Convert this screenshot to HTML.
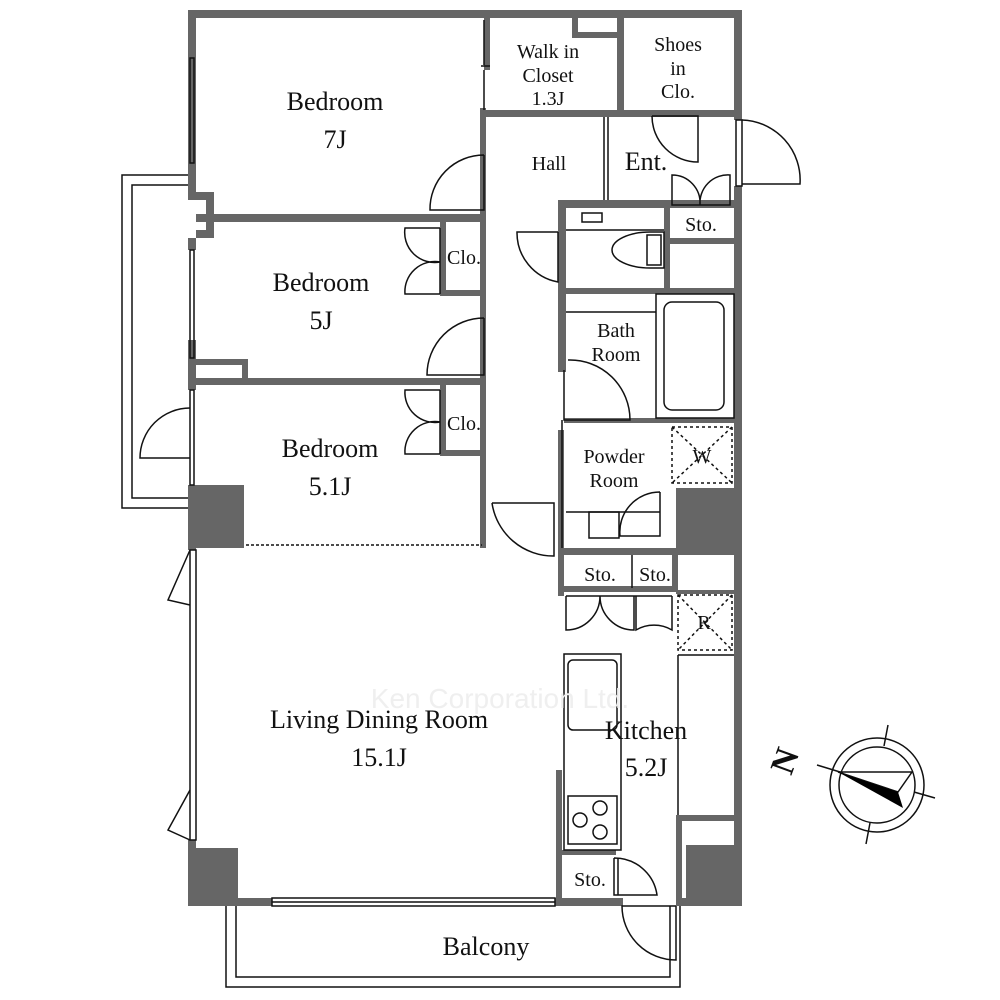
<!DOCTYPE html>
<html><head><meta charset="utf-8"><style>
html,body{margin:0;padding:0;background:#fff;}
svg{display:block;}
text{font-family:"Liberation Serif",serif;fill:#111;}
</style></head><body>
<svg width="1000" height="1000" viewBox="0 0 1000 1000" xmlns="http://www.w3.org/2000/svg">
<g fill="#666">
<rect x="188" y="10" width="554" height="8"/>
<rect x="188" y="10" width="8" height="190"/>
<rect x="188" y="238" width="8" height="12"/>
<rect x="188" y="340" width="8" height="50"/>
<rect x="188" y="485" width="8" height="65"/>
<rect x="188" y="840" width="8" height="66"/>
<rect x="734" y="10" width="8" height="110"/>
<rect x="734" y="186" width="8" height="720"/>
<rect x="188" y="898" width="84" height="8"/>
<rect x="555" y="898" width="68" height="8"/>
<rect x="676" y="898" width="66" height="8"/>
<rect x="188" y="485" width="56" height="63"/>
<rect x="188" y="848" width="50" height="58"/>
<rect x="676" y="488" width="66" height="60"/>
<rect x="686" y="845" width="56" height="61"/>
<rect x="196" y="214" width="288" height="8"/>
<rect x="196" y="192" width="18" height="8"/><rect x="206" y="192" width="8" height="46"/><rect x="196" y="230" width="18" height="8"/>
<rect x="196" y="378" width="288" height="7"/>
<rect x="196" y="359" width="50" height="6"/><rect x="242" y="359" width="6" height="22"/>
<rect x="440" y="222" width="6" height="74"/><rect x="440" y="290" width="44" height="6"/>
<rect x="440" y="385" width="6" height="71"/><rect x="440" y="450" width="44" height="6"/>
<rect x="484" y="18" width="6" height="52"/>
<rect x="480" y="108" width="6" height="440"/>
<rect x="484" y="110" width="250" height="7"/>
<rect x="617" y="18" width="7" height="96"/>
<rect x="572" y="18" width="6" height="20"/><rect x="572" y="32" width="45" height="6"/>
<rect x="558" y="200" width="176" height="8"/>
<rect x="558" y="200" width="8" height="172"/>
<rect x="558" y="430" width="6" height="125"/>
<rect x="664" y="208" width="6" height="84"/>
<rect x="668" y="238" width="66" height="6"/>
<rect x="564" y="288" width="170" height="6"/>
<rect x="564" y="418" width="170" height="5"/>
<rect x="558" y="548" width="184" height="7"/>
<rect x="558" y="548" width="6" height="48"/>
<rect x="558" y="586" width="120" height="6"/>
<rect x="672" y="548" width="6" height="44"/>
<rect x="676" y="590" width="58" height="4"/>
<rect x="676" y="815" width="58" height="6"/>
<rect x="676" y="815" width="6" height="83"/>
<rect x="556" y="770" width="6" height="130"/>
<rect x="556" y="850" width="60" height="5"/>
</g>
<g fill="none" stroke="#111" stroke-width="1.5">
<rect x="190" y="58" width="4" height="105"/>
<rect x="190" y="250" width="4" height="108"/>
<rect x="190" y="390" width="4" height="95"/>
<rect x="190" y="550" width="6" height="290"/>
<path d="M190 550 L168 600 L190 605 M190 790 L168 830 L190 840"/>
<path d="M188 175 H122 V508 H188 M188 185 H132 V498 H188"/>
<path d="M190 408 A50 50 0 0 0 140 458 H190"/>
<path d="M226 906 V987 H680 V906 M236 906 V977 H670 V906"/>
<rect x="272" y="898" width="283" height="8"/>
<line x1="272" y1="902" x2="555" y2="902"/>
<path d="M676 906 V960 A54 54 0 0 1 622 906 H676"/>
<rect x="736" y="120" width="6" height="66"/>
<path d="M742 120 A60 60 0 0 1 800 184 H742"/>
<path d="M484 155 V210 H430 A54 54 0 0 1 484 155"/>
<path d="M484 318 V375 H427 A57 57 0 0 1 484 318"/>
<path d="M440 228 V294 M440 228 H405 A30 30 0 0 0 440 262 A30 30 0 0 0 405 294 H440"/>
<path d="M440 390 V454 M440 390 H405 A30 30 0 0 0 440 422 A30 30 0 0 0 405 454 H440"/>
<path d="M484 20 V65"/><line x1="481" y1="66" x2="490" y2="66"/>
<path d="M484 70 V110"/>
<path d="M558 232 V282 A50 50 0 0 1 517 232 H558"/>
<path d="M492 503 H554 V556 A62 62 0 0 1 492 503"/>
<path d="M604 117 V200 M608 117 V200"/>
<path d="M652 116 H698 V162 A46 46 0 0 1 652 116"/>
<path d="M672 205 V175 A28 28 0 0 1 700 205 A28 28 0 0 1 730 175 V205 Z"/>
<path d="M566 230 H664"/>
<rect x="582" y="213" width="20" height="9"/>
<path d="M664 232 H650 A38 18 0 1 0 650 268 H664 Z"/>
<rect x="647" y="235" width="14" height="30"/>
<path d="M566 312 H656"/>
<rect x="656" y="294" width="78" height="124"/>
<rect x="664" y="302" width="60" height="108" rx="8"/>
<path d="M564 370 V420 H630 A60 60 0 0 0 568 360"/>
<path d="M562 420 V548"/>
<rect x="672" y="427" width="60" height="56" stroke-dasharray="3,3"/>
<path d="M672 427 L732 483 M732 427 L672 483" stroke-dasharray="3,3"/>
<path d="M566 512 H660"/>
<rect x="589" y="512" width="30" height="26"/>
<path d="M660 492 V536 H620 A40 40 0 0 1 660 492"/>
<line x1="632" y1="555" x2="632" y2="588"/>
<path d="M566 596 H672 M566 596 V630 A34 34 0 0 0 600 596 A34 34 0 0 0 634 630 V596 M636 596 V630 A36 36 0 0 1 672 630 V596"/>
<rect x="678" y="595" width="54" height="55" stroke-dasharray="3,3"/>
<path d="M678 595 L732 650 M732 595 L678 650" stroke-dasharray="3,3"/>
<rect x="564" y="654" width="57" height="196"/>
<rect x="568" y="660" width="49" height="70" rx="5"/>
<rect x="568" y="796" width="49" height="48"/>
<circle cx="580" cy="820" r="7"/><circle cx="600" cy="808" r="7"/><circle cx="600" cy="832" r="7"/>
<path d="M678 655 V815 M678 655 H734"/>
<path d="M614 858 V895 H657 A43 43 0 0 0 614 858"/>
<line x1="618" y1="858" x2="618" y2="895"/>
<line x1="246" y1="545" x2="482" y2="545" stroke-dasharray="3,2"/>
<circle cx="877" cy="785" r="47"/>
<circle cx="877" cy="785" r="38"/>
<path d="M888 725 L884 746 M866 844 L870 823 M817 765 L840 772 M935 798 L914 792"/>
<path d="M838 772 H912 L898 792 Z" fill="#fff"/>
</g>
<path d="M838 772 L898 792 L903 808 Z" fill="#000"/>
<text x="770" y="770" font-size="34" font-weight="bold" transform="rotate(-70 785 758)">N</text>
<g font-size="26" text-anchor="middle">
<text x="335" y="110">Bedroom</text><text x="335" y="148">7J</text>
<text x="321" y="291">Bedroom</text><text x="321" y="329">5J</text>
<text x="330" y="457">Bedroom</text><text x="330" y="495">5.1J</text>
<text x="646" y="170">Ent.</text>
<text x="379" y="728">Living Dining Room</text><text x="379" y="766">15.1J</text>
<text x="646" y="739">Kitchen</text><text x="646" y="776">5.2J</text>
<text x="486" y="955">Balcony</text>
</g>
<g font-size="20" text-anchor="middle">
<text x="548" y="58">Walk in</text><text x="548" y="82">Closet</text><text x="548" y="105">1.3J</text>
<text x="678" y="51">Shoes</text><text x="678" y="75">in</text><text x="678" y="98">Clo.</text>
<text x="549" y="170">Hall</text>
<text x="701" y="231">Sto.</text>
<text x="464" y="264">Clo.</text><text x="464" y="430">Clo.</text>
<text x="616" y="337">Bath</text><text x="616" y="361">Room</text>
<text x="614" y="463">Powder</text><text x="614" y="487">Room</text>
<text x="702" y="463">W</text><text x="704" y="629">R</text>
<text x="600" y="581">Sto.</text><text x="655" y="581">Sto.</text>
<text x="590" y="886">Sto.</text>
</g>
<text x="500" y="708" font-size="28" text-anchor="middle" style="font-family:'Liberation Sans',sans-serif;fill:#efefef">Ken Corporation Ltd.</text>
</svg>
</body></html>
